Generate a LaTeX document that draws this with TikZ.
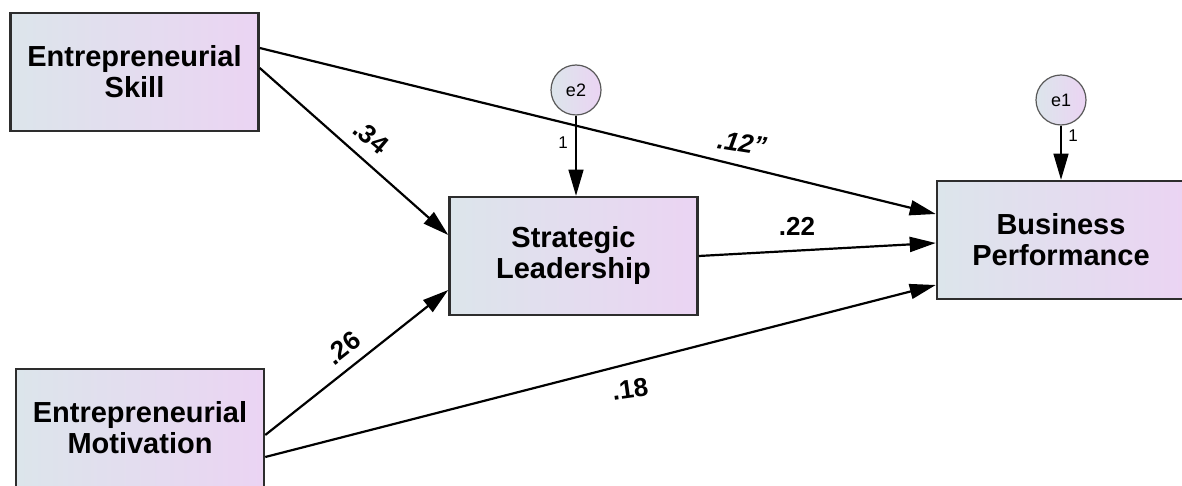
\documentclass[tikz,border=0pt]{standalone}
\usepackage{fontspec}
\setmainfont{Liberation Sans}
\usetikzlibrary{arrows.meta}
\definecolor{boxleft}{RGB}{220,229,235}
\definecolor{boxright}{RGB}{235,212,243}
\definecolor{rimgray}{RGB}{45,45,45}
\begin{document}
\begin{tikzpicture}[x=1pt,y=-1pt,
        boxsty/.style={rectangle,draw=rimgray,line width=2.5pt,
            left color=boxleft,right color=boxright,
            minimum width=248pt,minimum height=118pt,inner sep=0pt,align=center,
            font=\fontsize{29}{31}\selectfont\bfseries},
        errsty/.style={circle,draw=gray!70!black,line width=1.2pt,
            left color=boxleft,right color=boxright,
            minimum size=50pt,inner sep=0pt,font=\fontsize{18}{18}\selectfont},
        pathsty/.style={line width=2.2pt,-{Triangle[length=26pt,width=15pt]}},
        epathsty/.style={line width=1.2pt,-{Triangle[length=26pt,width=15pt]}},
        coefsty/.style={font=\fontsize{26}{26}\selectfont\bfseries,inner sep=0pt},
        onesty/.style={font=\fontsize{17}{17}\selectfont,inner sep=0pt},
    ]
    \useasboundingbox (0,0) rectangle (1182,486);
    \clip (0,0) rectangle (1182,486);
    % observed variables
    \node (es) at (134.5,72) [boxsty] {Entrepreneurial\\Skill};
    \node (em) at (140,428) [boxsty] {Entrepreneurial\\Motivation};
    \node (sl) at (573.5,256) [boxsty] {Strategic\\Leadership};
    \node (bp) at (1061,240) [boxsty] {Business\\Performance};
    % error terms
    \node (e2) at (576,90) [errsty] {e2};
    \node (e1) at (1061,100) [errsty] {e1};
    % paths
    \draw[pathsty] ([yshift=4pt]es.east) -- ([yshift=21pt]sl.west);
    \draw[pathsty] ([yshift=24pt]es.east) -- ([yshift=26pt]bp.west);
    \draw[pathsty] ([yshift=-7pt]em.east) -- ([yshift=-34pt]sl.west);
    \draw[pathsty] ([yshift=-29pt]em.east) -- ([yshift=-45pt]bp.west);
    \draw[pathsty] (sl.east) -- ([yshift=-3pt]bp.west);
    \draw[epathsty] (e2.south) -- (e2.south |- sl.north);
    \draw[epathsty] (e1.south) -- (e1.south |- bp.north);
    % coefficients
    \node (c34) at (371,137) [coefsty,rotate=-40] {.34};
    \node (c26) at (343,348) [coefsty,rotate=38] {.26};
    \node (c12) at (742,143) [coefsty,rotate=-9] {\itshape .12''};
    \node (c22) at (797,226) [coefsty] {.22};
    \node (c18) at (630,389) [coefsty,rotate=8] {.18};
    \node (o2) at (563,143) [onesty] {1};
    \node (o1) at (1073,136) [onesty] {1};
\end{tikzpicture}
\end{document}
